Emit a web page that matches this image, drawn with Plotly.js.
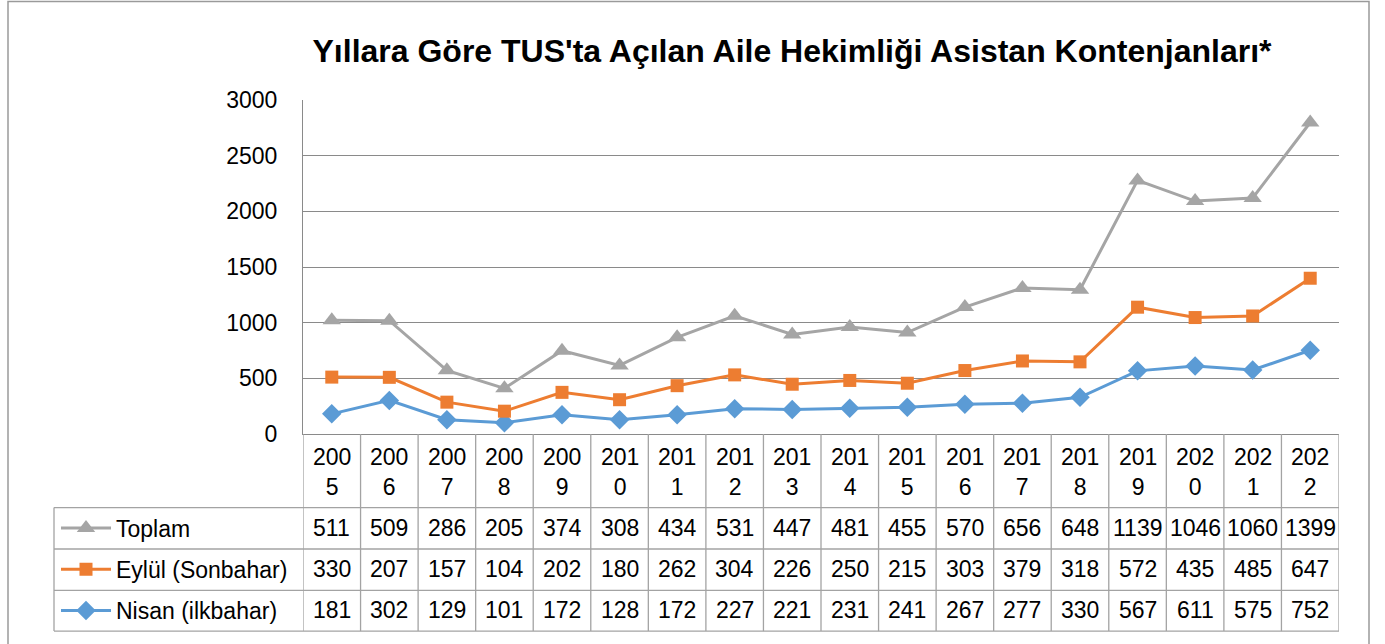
<!DOCTYPE html>
<html>
<head>
<meta charset="utf-8">
<script src="https://cdn.plot.ly/plotly-3.0.1.min.js"></script>
<style>html,body{margin:0;padding:0;background:#fff;}#chart{width:1385px;height:644px;}</style>
</head>
<body>
<div id="chart"></div>
<script>
// ---- data ----
const years = [2005,2006,2007,2008,2009,2010,2011,2012,2013,2014,2015,2016,2017,2018,2019,2020,2021,2022];
const nisan  = [181,302,129,101,172,128,172,227,221,231,241,267,277,330,567,611,575,752];
const eylul  = [330,207,157,104,202,180,262,304,226,250,215,303,379,318,572,435,485,647];
const toplam = [511,509,286,205,374,308,434,531,447,481,455,570,656,648,1139,1046,1060,1399];
const seriesNames = ["Nisan (ilkbahar)", "Eylül (Sonbahar)", "Toplam"];
const titleText = "Yıllara Göre TUS'ta Açılan Aile Hekimliği Asistan Kontenjanları*";
const yTicks = [0,500,1000,1500,2000,2500,3000];

// ---- layout geometry (pixels) ----
const W = 1385, H = 644;
const L = 303, R = 1339, T = 100, B = 436;
const PX = px => (px - L) / (R - L);
const PY = py => (B - py) / (B - T);
const FONT = "Liberation Sans, Arial, sans-serif";
const TXT = {family: FONT, size: 23, color: "#000"};
const GRID = "#8a8a8a";
const TAB = "#a3a3a3";

const cats = years.map(String);
const rows = [
  {name: seriesNames[2], vals: toplam, cy: 530.5},
  {name: seriesNames[1], vals: eylul,  cy: 572},
  {name: seriesNames[0], vals: nisan,  cy: 613.5}
];

const traces = [
  {name: seriesNames[0], x: cats, y: nisan, type: "scatter", mode: "lines+markers",
   stackgroup: "s", fill: "none", legend: "legend3",
   line: {color: "#5b9bd5", width: 3}, marker: {symbol: "diamond", size: 15, color: "#5b9bd5"}},
  {name: seriesNames[1], x: cats, y: eylul, type: "scatter", mode: "lines+markers",
   stackgroup: "s", fill: "none", legend: "legend2",
   line: {color: "#ed7d31", width: 3}, marker: {symbol: "square", size: 13, color: "#ed7d31"}},
  {name: seriesNames[2], x: cats, y: toplam, type: "scatter", mode: "lines+markers",
   stackgroup: "s", fill: "none", legend: "legend",
   line: {color: "#a5a5a5", width: 3}, marker: {symbol: "triangle-up", size: 16, color: "#a5a5a5"}}
];

const annotations = [];
cats.forEach((c, i) => {
  annotations.push({x: i, xref: "x", y: PY(474), yref: "paper", yanchor: "middle",
    text: c.slice(0, 3) + "<br>" + c.slice(3), showarrow: false, font: TXT});
});
rows.forEach(r => {
  r.vals.forEach((v, i) => {
    annotations.push({x: i, xref: "x", y: PY(r.cy), yref: "paper", yanchor: "middle",
      text: String(v), showarrow: false, font: TXT});
  });
});

const shapes = [];
// outer chart border
shapes.push({type: "rect", xref: "paper", yref: "paper", x0: PX(8), x1: PX(1369), y0: PY(1), y1: PY(700),
  line: {color: "#9a9a9a", width: 1.5}, fillcolor: "rgba(0,0,0,0)"});
// horizontal table lines
[510, 551.7, 593.3, 634.3].forEach(py => {
  shapes.push({type: "line", xref: "paper", yref: "paper", x0: PX(54), x1: PX(R), y0: PY(py), y1: PY(py),
    line: {color: TAB, width: 1.3}});
});
// vertical table lines at category boundaries
for (let i = 0; i <= cats.length; i++) {
  shapes.push({type: "line", xref: "x", yref: "paper", x0: i - 0.5, x1: i - 0.5, y0: PY(B), y1: PY(634.3),
    line: {color: TAB, width: 1.3}});
}
// left edge of legend column
shapes.push({type: "line", xref: "paper", yref: "paper", x0: PX(54), x1: PX(54), y0: PY(510), y1: PY(634.3),
  line: {color: TAB, width: 1.3}});

const legendBase = r => ({x: PX(56), xanchor: "left", y: PY(r.cy), yanchor: "middle",
  bgcolor: "rgba(0,0,0,0)", borderwidth: 0, font: TXT, itemwidth: 50, orientation: "v"});

const layout = {
  width: W, height: H,
  margin: {l: L, r: W - R, t: T, b: H - B, pad: 0},
  paper_bgcolor: "#fff", plot_bgcolor: "#fff",
  title: {text: "<b>" + titleText + "</b>", font: {family: FONT, size: 32, color: "#000"},
    x: PX(792), xanchor: "center", xref: "paper", y: 1 - 51 / H, yanchor: "middle", yref: "container"},
  xaxis: {type: "category", range: [-0.5, cats.length - 0.5], showticklabels: false, ticks: "",
    showgrid: false, showline: true, linecolor: GRID, linewidth: 1, zeroline: false, fixedrange: true},
  yaxis: {range: [0, 3000], tickvals: yTicks, ticktext: yTicks.map(String), tickfont: TXT,
    showgrid: true, gridcolor: GRID, gridwidth: 1, showline: true, linecolor: GRID, linewidth: 1,
    zeroline: false, ticks: "", ticklabelstandoff: 20, fixedrange: true},
  showlegend: true,
  legend: legendBase(rows[0]),
  legend2: legendBase(rows[1]),
  legend3: legendBase(rows[2]),
  annotations: annotations,
  shapes: shapes,
  hovermode: false
};

Plotly.newPlot("chart", traces, layout, {displayModeBar: false, staticPlot: true});
</script>
</body>
</html>
